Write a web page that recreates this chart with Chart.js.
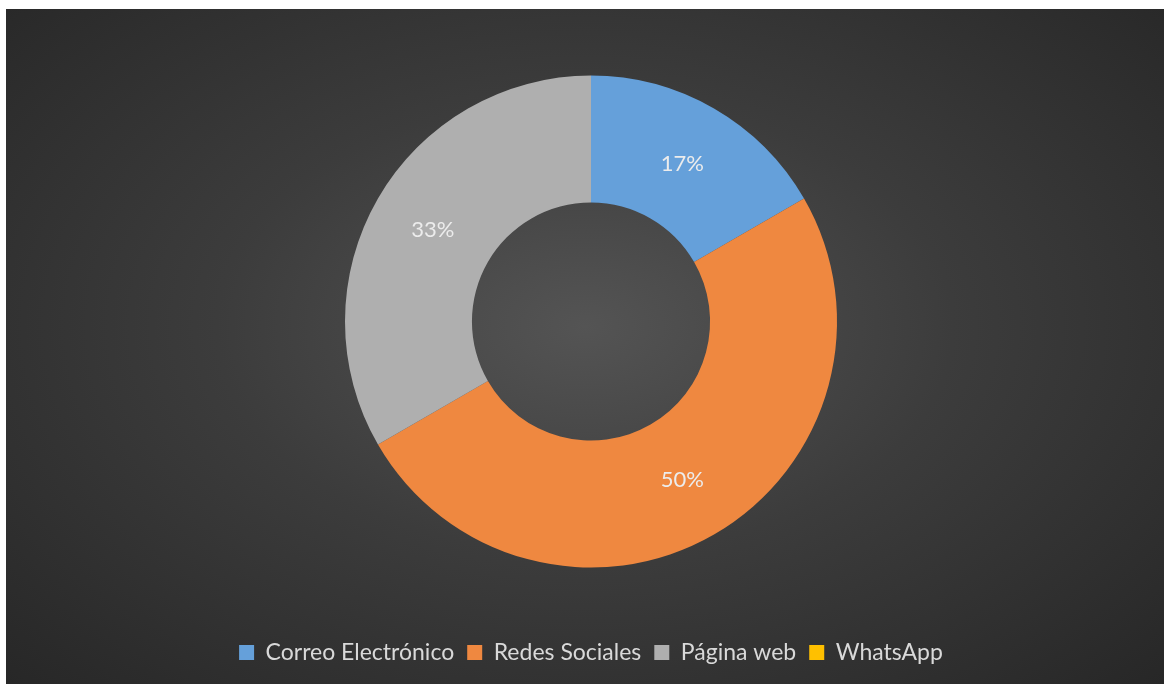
<!DOCTYPE html>
<html>
<head>
<meta charset="utf-8">
<script src="https://cdn.jsdelivr.net/npm/chart.js@4"></script>
<style>
  html, body { margin: 0; padding: 0; background: #ffffff; }
  body { width: 1165px; height: 684px; position: relative; overflow: hidden; }
  #wrap {
    position: absolute; left: 6px; top: 9px; width: 1158px; height: 675px;
    background: radial-gradient(ellipse at 50% 47%, #545454 0%, #3c3c3c 45%, #272727 100%);
  }
</style>
</head>
<body>
<div id="wrap"><canvas id="donut" width="1158" height="675"></canvas></div>
<script>
// ------------------------
// DATA
// ------------------------
const categories = ['Correo Electrónico', 'Redes Sociales', 'Página web', 'WhatsApp'];
const responses = [1, 3, 2, 0];
const sliceColors = ['#65A0DA', '#EF8840', '#AFAFAF', '#FFC000'];

const total = responses.reduce((a, b) => a + b, 0);

// draws the percentage in the middle of each ring segment
const percentLabels = {
    id: 'percentLabels',
    afterDatasetsDraw(chart) {
        const ctx = chart.ctx;
        const meta = chart.getDatasetMeta(0);
        ctx.save();
        ctx.font = '22px Lato';
        ctx.fillStyle = '#ececec';
        ctx.textAlign = 'center';
        ctx.textBaseline = 'middle';
        meta.data.forEach((arc, i) => {
            const v = responses[i];
            if(!v) return;
            const pos = arc.tooltipPosition();
            ctx.fillText(Math.round(v / total * 100) + '%', pos.x, pos.y);
        });
        ctx.restore();
    }
};

new Chart(document.getElementById('donut').getContext('2d'), {
    type: 'doughnut',
    data: {
        labels: categories,
        datasets: [{
            data: responses,
            backgroundColor: sliceColors,
            borderWidth: 0,
            radius: 246,
            cutout: '48.4%'
        }]
    },
    options: {
        responsive: false,
        animation: false,
        layout: { padding: { top: 6, bottom: 10, left: 12, right: 0 } },
        plugins: {
            tooltip: { enabled: false },
            legend: {
                position: 'bottom',
                labels: {
                    color: '#d9d9d9',
                    font: { family: 'Lato', size: 23 },
                    boxWidth: 15,
                    boxHeight: 15,
                    padding: 13
                }
            }
        }
    },
    plugins: [percentLabels]
});
</script>
</body>
</html>
